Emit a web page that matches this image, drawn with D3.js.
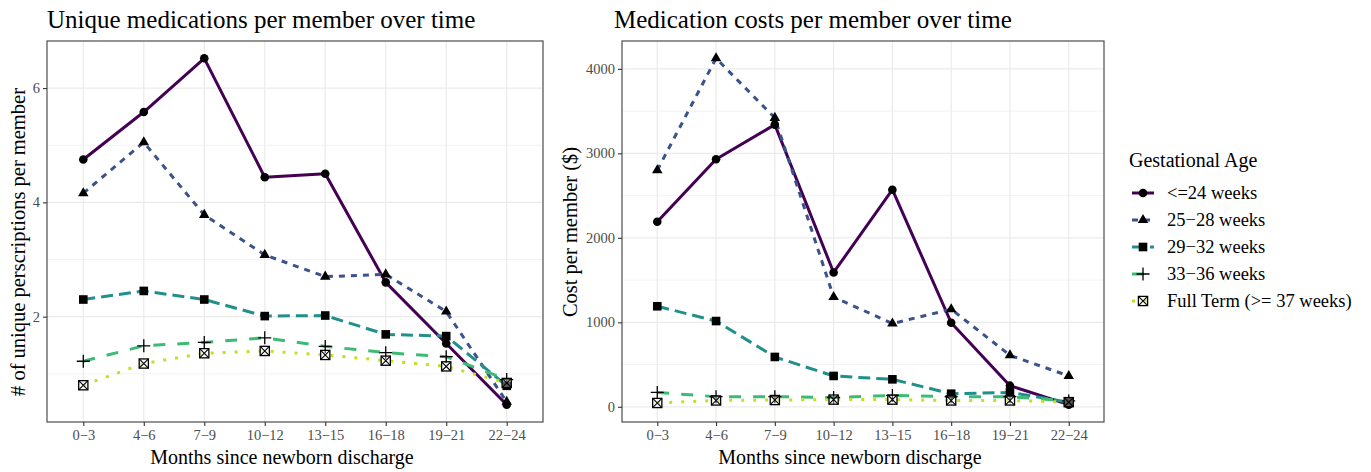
<!DOCTYPE html>
<html><head><meta charset="utf-8">
<script src="https://cdn.jsdelivr.net/npm/d3@7"></script>
<style>body{margin:0;background:#fff}svg{display:block}</style>
</head><body>
<svg id="chart" width="1371" height="472"></svg>
<script>
// ---- data ----
const categories = ["0\u22123","4\u22126","7\u22129","10\u221212","13\u221215","16\u221218","19\u221221","22\u221224"];
const groups = ["<=24 weeks","25\u221228 weeks","29\u221232 weeks","33\u221236 weeks","Full Term (>= 37 weeks)"];

const medsLe24   = [4.75,5.58,6.52,4.44,4.50,2.60,1.53,0.46];
const meds25to28 = [4.16,5.05,3.78,3.08,2.70,2.74,2.09,0.51];
const meds29to32 = [2.30,2.45,2.30,2.01,2.02,1.69,1.66,0.79];
const meds33to36 = [1.22,1.49,1.55,1.63,1.48,1.37,1.30,0.90];
const medsFull   = [0.80,1.18,1.36,1.40,1.33,1.23,1.13,0.84];

const costLe24   = [2190,2930,3340,1590,2570,995,250,25];
const cost25to28 = [2800,4125,3420,1300,985,1155,610,365];
const cost29to32 = [1190,1015,590,365,325,155,170,55];
const cost33to36 = [170,120,120,110,135,120,120,70];
const costFull   = [45,75,80,85,85,75,75,55];

const medsTicks = [2,4,6];
const medsMinor = [1,3,5];
const costTicks = [0,1000,2000,3000,4000];
const costMinor = [500,1500,2500,3500];

// ---- styles ----
const colors = ["#440154","#3B528B","#21908C","#3CBB75","#C2DF23"];
const dashes = [null,"6,6","12,6","12,12","3,9"];
const shapes = ["circle","triangle","square","plus","squarecross"];
const FONT = "'Liberation Serif','Times New Roman',serif";

const svg = d3.select("#chart");

function drawShape(g, type, x, y) {
  if (type === "circle") {
    g.append("circle").attr("cx", x).attr("cy", y).attr("r", 4.3).attr("fill", "#000");
  } else if (type === "triangle") {
    const s = 10.5, h = s * Math.sqrt(3) / 2;
    g.append("path").attr("d", `M${x},${y - h*2/3}L${x + s/2},${y + h/3}L${x - s/2},${y + h/3}Z`).attr("fill", "#000");
  } else if (type === "square") {
    g.append("rect").attr("x", x - 4.3).attr("y", y - 4.3).attr("width", 8.6).attr("height", 8.6).attr("fill", "#000");
  } else if (type === "plus") {
    g.append("path").attr("d", `M${x-6.5},${y}H${x+6.5}M${x},${y-6.5}V${y+6.5}`).attr("stroke", "#000").attr("stroke-width", 1.3).attr("fill", "none");
  } else if (type === "squarecross") {
    const r = 4.6;
    g.append("rect").attr("x", x - r).attr("y", y - r).attr("width", 2*r).attr("height", 2*r)
      .attr("fill", "rgba(255,255,255,0.35)").attr("stroke", "#000").attr("stroke-width", 1.3);
    g.append("path").attr("d", `M${x-r},${y-r}L${x+r},${y+r}M${x+r},${y-r}L${x-r},${y+r}`).attr("stroke", "#000").attr("stroke-width", 1.1);
  }
}

function panel(opts) {
  const {left, right, top, bottom, series, ticks, minor, title, titleX, ytitle, ytitleX, ytitleY, xtitleX} = opts;
  const all = series.flat();
  const mn = d3.min(all), mx = d3.max(all), pad = (mx - mn) * 0.05;
  const x = d3.scalePoint().domain(categories).range([left, right]).padding(0.6);
  const y = d3.scaleLinear().domain([mn - pad, mx + pad]).range([bottom, top]);
  const g = svg.append("g");

  // background grid
  g.append("g").selectAll("line.minor").data(minor).join("line")
    .attr("x1", left).attr("x2", right).attr("y1", d => y(d)).attr("y2", d => y(d))
    .attr("stroke", "#EBEBEB").attr("stroke-width", 0.6);
  g.append("g").selectAll("line.major").data(ticks).join("line")
    .attr("x1", left).attr("x2", right).attr("y1", d => y(d)).attr("y2", d => y(d))
    .attr("stroke", "#EBEBEB").attr("stroke-width", 1.2);
  g.append("g").selectAll("line.vg").data(categories).join("line")
    .attr("x1", d => x(d)).attr("x2", d => x(d)).attr("y1", top).attr("y2", bottom)
    .attr("stroke", "#EBEBEB").attr("stroke-width", 1.2);

  // lines
  const line = d3.line().x((d, i) => x(categories[i])).y(d => y(d));
  series.forEach((s, k) => {
    g.append("path").datum(s).attr("d", line).attr("fill", "none")
      .attr("stroke", colors[k]).attr("stroke-width", 3)
      .attr("stroke-dasharray", dashes[k]).attr("stroke-linejoin", "round");
  });
  // points
  series.forEach((s, k) => {
    const pg = g.append("g");
    s.forEach((v, i) => drawShape(pg, shapes[k], x(categories[i]), y(v)));
  });

  // border
  g.append("rect").attr("x", left).attr("y", top).attr("width", right - left).attr("height", bottom - top)
    .attr("fill", "none").attr("stroke", "#4D4D4D").attr("stroke-width", 1.2);

  // axes
  const xa = g.append("g").attr("transform", `translate(0,${bottom})`)
    .call(d3.axisBottom(x).tickSize(4).tickPadding(4));
  const ya = g.append("g").attr("transform", `translate(${left},0)`)
    .call(d3.axisLeft(y).tickValues(ticks).tickSize(4).tickPadding(3).tickFormat(d3.format("d")));
  [xa, ya].forEach(a => {
    a.attr("font-family", FONT);
    a.select(".domain").remove();
    a.selectAll(".tick line").attr("stroke", "#333").attr("stroke-width", 1.1);
    a.selectAll(".tick text").attr("fill", "#4D4D4D").style("font-family", FONT).style("font-size", "14.5px");
  });

  // titles
  svg.append("text").attr("x", titleX).attr("y", 28).text(title)
    .style("font-family", FONT).style("font-size", "25px").attr("fill", "#000");
  svg.append("text").attr("x", xtitleX).attr("y", 464).attr("text-anchor", "middle").text("Months since newborn discharge")
    .style("font-family", FONT).style("font-size", "20px").attr("fill", "#000");
  svg.append("text").attr("transform", `translate(${ytitleX},${ytitleY}) rotate(-90)`).attr("text-anchor", "middle")
    .text(ytitle).style("font-family", FONT).style("font-size", "20.5px").attr("fill", "#000");
}

panel({left: 47, right: 543, top: 41, bottom: 422,
  series: [medsLe24, meds25to28, meds29to32, meds33to36, medsFull],
  ticks: medsTicks, minor: medsMinor,
  title: "Unique medications per member over time", titleX: 47,
  ytitle: "# of unique perscriptions per member", ytitleX: 25, ytitleY: 242, xtitleX: 282});

panel({left: 622, right: 1104, top: 41, bottom: 422,
  series: [costLe24, cost25to28, cost29to32, cost33to36, costFull],
  ticks: costTicks, minor: costMinor,
  title: "Medication costs per member over time", titleX: 614,
  ytitle: "Cost per member ($)", ytitleX: 577, ytitleY: 232, xtitleX: 850});

// legend
const lg = svg.append("g");
lg.append("text").attr("x", 1129).attr("y", 167).text("Gestational Age")
  .style("font-family", FONT).style("font-size", "20px").attr("fill", "#000");
groups.forEach((name, k) => {
  const yy = 193 + k * 27;
  lg.append("line").attr("x1", 1132).attr("x2", 1154).attr("y1", yy).attr("y2", yy)
    .attr("stroke", colors[k]).attr("stroke-width", 3).attr("stroke-dasharray", dashes[k]);
  drawShape(lg, shapes[k], 1143, yy);
  lg.append("text").attr("x", 1167).attr("y", yy).attr("dy", "0.35em").text(name)
    .style("font-family", FONT).style("font-size", "18.5px").attr("fill", "#000");
});
</script>
</body></html>
